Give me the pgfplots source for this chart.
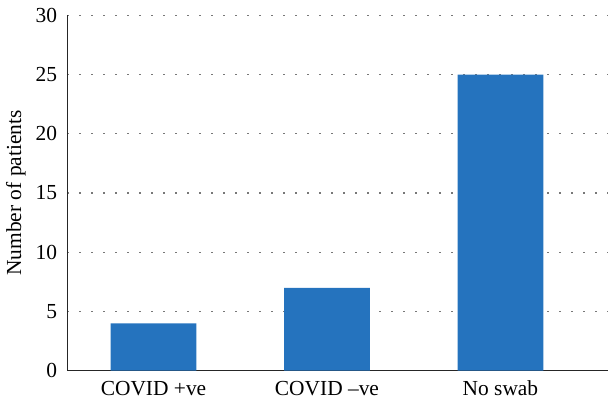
\documentclass[border=0pt]{standalone}
\usepackage{fontspec}
\setmainfont{Liberation Serif}
\usepackage{pgfplots}
\pgfplotsset{compat=1.18}
\definecolor{barblue}{RGB}{37,115,190}
\definecolor{gridgray}{RGB}{120,120,120}
\begin{document}
\begin{tikzpicture}
\useasboundingbox (-67.3bp,-29.3bp) rectangle (540.7bp,370.7bp);
\begin{axis}[
  at={(0,0)}, anchor=south west,
  scale only axis,
  width=540.7bp, height=355.4bp,
  xmin=-0.497, xmax=2.62,
  ymin=0, ymax=30,
  ytick={0,5,...,30},
  xtick=data,
  xticklabels={COVID +ve, COVID \textendash ve, No swab},
  axis x line=bottom, axis y line=left,
  axis line style={-, line width=0.8bp, black!85},
  major tick length=0pt,
  ymajorgrids,
  major grid style={gridgray, line width=1.3bp, dash pattern=on 1.3bp off 10.7bp},
  font=\fontsize{21.5}{25}\selectfont,
  /pgf/number format/assume math mode=true,
  yticklabel style={font=\fontsize{21.5}{25}\selectfont, inner sep=0pt, anchor=east, xshift=-10bp},
  xticklabel style={font=\fontsize{21.5}{25}\selectfont, inner sep=0pt, anchor=base, yshift=-24.5bp},
  ylabel={Number of patients},
  every axis y label/.style={at={(axis description cs:-0.0856,0.5)}, anchor=base, rotate=90, font=\fontsize{21.5}{25}\selectfont},
]
\addplot[ybar, bar width=85.7bp, fill=barblue, draw=none] coordinates {(0,4) (1,7) (2,25)};
\end{axis}
\end{tikzpicture}
\end{document}
